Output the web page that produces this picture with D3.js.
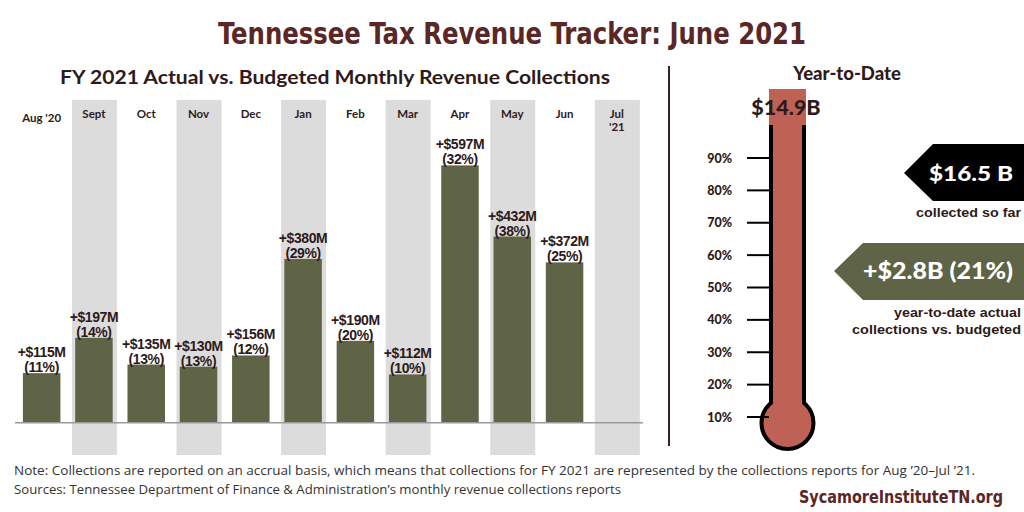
<!DOCTYPE html>
<html><head><meta charset="utf-8">
<script src="https://cdn.jsdelivr.net/npm/d3@7"></script>
<style>html,body{margin:0;padding:0;background:#fff;}svg{display:block;}</style>
</head><body>
<svg id="c" width="1024" height="512"></svg>
<script>
const months = ["Aug '20","Sept","Oct","Nov","Dec","Jan","Feb","Mar","Apr","May","Jun","Jul '21"];
const surplusM = [115,197,135,130,156,380,190,112,597,432,372,null];
const surplusPct = [11,14,13,13,12,29,20,10,32,38,25,null];
const thermoTicks = [10,20,30,40,50,60,70,80,90];
const ytdCollected = "$14.9B";
const ytdBudget = "$16.5 B";
const ytdDiff = "+$2.8B (21%)";

const svg = d3.select("#c");
const dark = "#2e1a1a", maroon = "#5a2626", olive = "#5f6447", band = "#dcdcdc", red = "#bf6155";

// Title
svg.append("text").attr("x",512).attr("y",44).attr("text-anchor","middle")
  .attr("font-family","'Liberation Sans Narrow','DejaVu Sans Condensed','Liberation Sans',sans-serif")
  .attr("font-weight","bold").attr("font-size",31).attr("fill",maroon)
  .attr("textLength",588).attr("lengthAdjust","spacingAndGlyphs")
  .text("Tennessee Tax Revenue Tracker: June 2021");

svg.append("text").attr("x",335).attr("y",84).attr("text-anchor","middle")
  .attr("font-family","Lato,'Noto Sans',sans-serif").attr("font-weight","bold")
  .attr("font-size",18).attr("fill",dark)
  .attr("textLength",550).attr("lengthAdjust","spacingAndGlyphs")
  .text("FY 2021 Actual vs. Budgeted Monthly Revenue Collections");

// Bar chart
const x = d3.scaleBand().domain(months).range([15.5, 643]).paddingInner(0).paddingOuter(0);
const y = d3.scaleLinear().domain([0,600]).range([422.7, 422.7-258.6]);
const bw = 37.5, gw = 45;

svg.append("g").selectAll("rect").data(months.filter((m,i)=>i%2===1)).join("rect")
  .attr("x",d=>x(d)+x.bandwidth()/2-gw/2+0.5).attr("y",100).attr("width",gw).attr("height",355)
  .attr("fill",band);

const data = months.map((m,i)=>({m, v:surplusM[i], p:surplusPct[i]})).filter(d=>d.v!=null);

svg.append("g").selectAll("rect").data(data).join("rect")
  .attr("x",d=>x(d.m)+x.bandwidth()/2-bw/2).attr("y",d=>y(d.v))
  .attr("width",bw).attr("height",d=>y(0)-y(d.v)).attr("fill",olive);

svg.append("line").attr("x1",15).attr("x2",643).attr("y1",y(0)).attr("y2",y(0))
  .attr("stroke","#9a9a9a").attr("stroke-width",1.5);

const lab = svg.append("g").attr("font-family","'Liberation Sans',Arial,sans-serif")
  .attr("font-weight","bold").attr("font-size",14).attr("fill",dark).attr("text-anchor","middle")
  .attr("letter-spacing","-0.4");
lab.selectAll("text.a").data(data).join("text").attr("class","a")
  .attr("x",d=>x(d.m)+x.bandwidth()/2).attr("y",d=>y(d.v)-16)
  .text(d=>"+$"+d.v+"M");
lab.selectAll("text.b").data(data).join("text").attr("class","b")
  .attr("x",d=>x(d.m)+x.bandwidth()/2).attr("y",d=>y(d.v)-1)
  .text(d=>"("+d.p+"%)");

// month labels
const ml = svg.append("g").attr("font-family","Lato,'Noto Sans',sans-serif").attr("font-weight","bold")
  .attr("font-size",11.5).attr("fill",dark).attr("text-anchor","middle");
months.forEach((m,i)=>{
  const cx = x(m)+x.bandwidth()/2;
  if (i===0) ml.append("text").attr("x",cx).attr("y",122).text(m);
  else if (i===months.length-1) {
    const parts = m.split(" ");
    ml.append("text").attr("x",cx).attr("y",118).text(parts[0]);
    ml.append("text").attr("x",cx).attr("y",131).text(parts[1]);
  } else ml.append("text").attr("x",cx).attr("y",118).text(m);
});

// divider
svg.append("line").attr("x1",669).attr("x2",669).attr("y1",66).attr("y2",446)
  .attr("stroke","#3a1f1f").attr("stroke-width",2);

// Right panel
svg.append("text").attr("x",847).attr("y",80).attr("text-anchor","middle")
  .attr("font-family","Lato,'Noto Sans',sans-serif").attr("font-weight","900")
  .attr("font-size",18.5).attr("fill",dark).text("Year-to-Date");

const ty = d3.scaleLinear().domain([10,90]).range([417,158]);
const tg = svg.append("g");
tg.append("rect").attr("x",769).attr("y",89).attr("width",37).attr("height",320).attr("fill",red);
[771,804].forEach(xx=>tg.append("line").attr("x1",xx).attr("x2",xx).attr("y1",125).attr("y2",405)
  .attr("stroke","#000").attr("stroke-width",4));
tg.append("circle").attr("cx",787.5).attr("cy",423).attr("r",26).attr("fill",red)
  .attr("stroke","#000").attr("stroke-width",4);
tg.append("rect").attr("x",773).attr("y",390).attr("width",29).attr("height",20).attr("fill",red);
tg.selectAll("line.t").data(thermoTicks).join("line").attr("class","t")
  .attr("x1",747).attr("x2",769).attr("y1",d=>ty(d)).attr("y2",d=>ty(d))
  .attr("stroke","#000").attr("stroke-width",2);
tg.selectAll("text.t").data(thermoTicks).join("text").attr("class","t")
  .attr("x",732).attr("y",d=>ty(d)+4.5).attr("text-anchor","end")
  .attr("font-family","Lato,'Noto Sans',sans-serif").attr("font-weight","900")
  .attr("font-size",12.5).attr("fill",dark).text(d=>d+"%");

svg.append("text").attr("x",786).attr("y",115).attr("text-anchor","middle")
  .attr("font-family","Lato,'Noto Sans',sans-serif").attr("font-weight","900")
  .attr("font-size",21.5).attr("fill",dark).text(ytdCollected);

// callout 1
svg.append("polygon").attr("points","904,173 933,144 1024,144 1024,201 933,201").attr("fill","#000");
svg.append("text").attr("x",971).attr("y",180.5).attr("text-anchor","middle")
  .attr("font-family","Lato,'Noto Sans',sans-serif").attr("font-weight","900")
  .attr("font-size",21).attr("fill","#fff").attr("textLength",84).attr("lengthAdjust","spacingAndGlyphs").text(ytdBudget);
svg.append("text").attr("x",1021).attr("y",217).attr("text-anchor","end")
  .attr("font-family","'Liberation Sans',Arial,sans-serif").attr("font-weight","bold")
  .attr("font-size",13).attr("fill",dark).attr("textLength",105).attr("lengthAdjust","spacingAndGlyphs").text("collected so far");

// callout 2
svg.append("polygon").attr("points","834,271 863,243 1024,243 1024,300 863,300").attr("fill",olive);
svg.append("text").attr("x",938).attr("y",279).attr("text-anchor","middle")
  .attr("font-family","Lato,'Noto Sans',sans-serif").attr("font-weight","900")
  .attr("font-size",22).attr("fill","#fff").attr("textLength",150).attr("lengthAdjust","spacingAndGlyphs").text(ytdDiff);
const c2 = svg.append("g").attr("font-family","'Liberation Sans',Arial,sans-serif").attr("font-weight","bold")
  .attr("font-size",13).attr("fill",dark).attr("text-anchor","end");
c2.append("text").attr("x",1021).attr("y",317).attr("textLength",127).attr("lengthAdjust","spacingAndGlyphs").text("year-to-date actual");
c2.append("text").attr("x",1021).attr("y",334).attr("textLength",169).attr("lengthAdjust","spacingAndGlyphs").text("collections vs. budgeted");

// footer
const ft = svg.append("g").attr("font-family","'Liberation Sans Narrow','Open Sans','Liberation Sans',sans-serif")
  .attr("font-size",13).attr("fill","#333");
ft.append("text").attr("x",14).attr("y",475).attr("textLength",961).attr("lengthAdjust","spacingAndGlyphs")
  .text("Note: Collections are reported on an accrual basis, which means that collections for FY 2021 are represented by the collections reports for Aug \u201920\u2013Jul \u201921.");
ft.append("text").attr("x",14).attr("y",494).attr("textLength",607).attr("lengthAdjust","spacingAndGlyphs")
  .text("Sources: Tennessee Department of Finance & Administration\u2019s monthly revenue collections reports");
svg.append("text").attr("x",1003).attr("y",503).attr("text-anchor","end")
  .attr("font-family","'Liberation Sans Narrow','DejaVu Sans Condensed','Liberation Sans',sans-serif")
  .attr("font-weight","bold").attr("font-size",17).attr("fill",maroon)
  .attr("textLength",204).attr("lengthAdjust","spacingAndGlyphs").text("SycamoreInstituteTN.org");
</script>
</body></html>
